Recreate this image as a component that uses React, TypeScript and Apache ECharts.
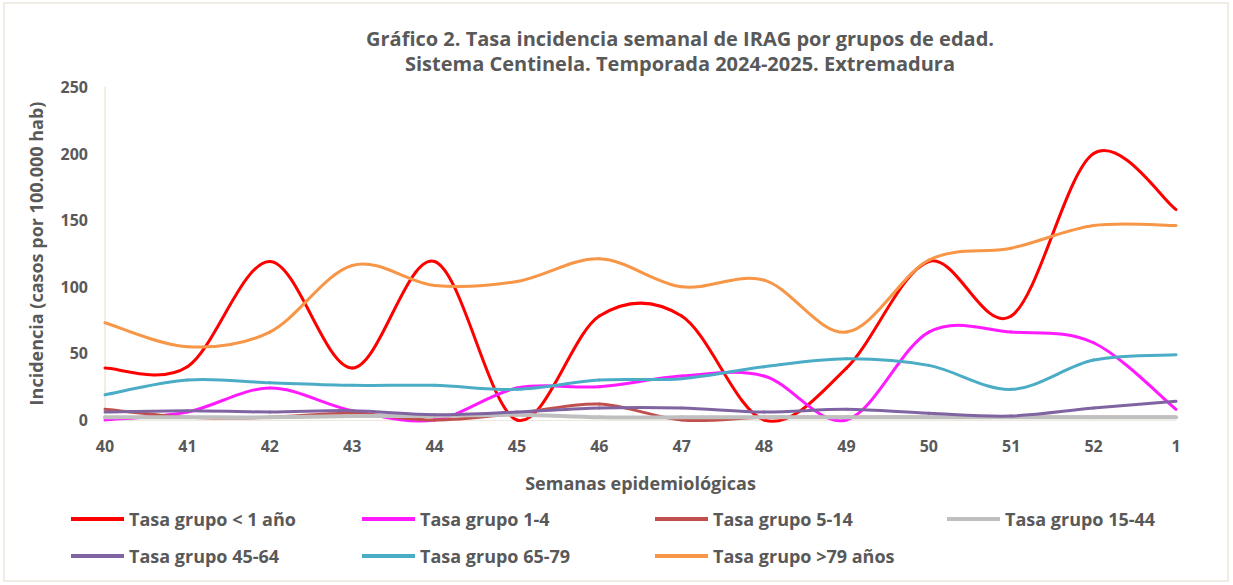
import React, { useEffect, useRef } from "react";
import * as echarts from "echarts";

const weeks = ["40", "41", "42", "43", "44", "45", "46", "47", "48", "49", "50", "51", "52", "1"];
const yTicks = [0, 50, 100, 150, 200, 250];

const grpLt1 = [39, 40, 119, 39, 119, 0, 78, 78, 0, 39, 119, 78, 200, 158];
const grp1to4 = [0, 6, 24, 7, 0, 24, 25, 33, 33, 0, 66, 66, 58, 8];
const grp5to14 = [8, 2, 2, 5, 0, 5, 12, 0, 2, 2, 2, 2, 2, 2];
const grp15to44 = [2, 2, 2, 3, 3, 4, 2, 2, 2, 2, 2, 2, 2, 2];
const grp45to64 = [6, 7, 6, 7, 4, 6, 9, 9, 6, 8, 5, 3, 9, 14];
const grp65to79 = [19, 30, 28, 26, 26, 23, 30, 31, 40, 46, 41, 23, 45, 49];
const grpGt79 = [73, 55, 66, 116, 101, 104, 121, 100, 105, 66, 120, 129, 146, 146];

const seriesNames = [
  "Tasa grupo < 1 año",
  "Tasa grupo 1-4",
  "Tasa grupo 5-14",
  "Tasa grupo 15-44",
  "Tasa grupo 45-64",
  "Tasa grupo 65-79",
  "Tasa grupo >79 años",
];
const seriesData = [grpLt1, grp1to4, grp5to14, grp15to44, grp45to64, grp65to79, grpGt79];
const colors = ["#FF0000", "#FF1AFF", "#C0504D", "#BFBFBF", "#8064A2", "#4BACC6", "#F79646"];
const widths = [3, 3, 3, 4, 3, 3, 3];

const FONT = "'Open Sans', 'Noto Sans', sans-serif";
const TXT = "#595959";

function smoothRender(values: number[], color: string, width: number) {
  return (params: any, api: any) => {
    const i = params.dataIndex;
    if (i >= values.length - 1) return null;
    const pt = (k: number) => {
      const kk = Math.max(0, Math.min(values.length - 1, k));
      return api.coord([kk, values[kk]]);
    };
    const p0 = pt(i - 1);
    const p1 = pt(i);
    const p2 = pt(i + 1);
    const p3 = pt(i + 2);
    const cp1 = [p1[0] + (p2[0] - p0[0]) / 6, p1[1] + (p2[1] - p0[1]) / 6];
    const cp2 = [p2[0] - (p3[0] - p1[0]) / 6, p2[1] - (p3[1] - p1[1]) / 6];
    return {
      type: "bezierCurve",
      shape: {
        x1: p1[0], y1: p1[1], x2: p2[0], y2: p2[1],
        cpx1: cp1[0], cpy1: cp1[1], cpx2: cp2[0], cpy2: cp2[1],
      },
      style: { stroke: color, lineWidth: width, fill: null, lineCap: "round" },
      silent: true,
    };
  };
}

export default function App() {
  const ref = useRef<HTMLDivElement>(null);
  useEffect(() => {
    document.body.style.margin = "0";
    const chart = echarts.init(ref.current!, null, { renderer: "svg" });
    const legendPos = [
      [71, 510], [362, 510], [655, 510], [947, 510],
      [71, 547], [362, 547], [655, 547],
    ];
    chart.setOption({
      animation: false,
      backgroundColor: "#ffffff",
      textStyle: { fontFamily: FONT },
      title: {
        text: "Gráfico 2. Tasa incidencia semanal de IRAG por grupos de edad.\nSistema Centinela. Temporada 2024-2025. Extremadura",
        left: 675,
        top: 21,
        textAlign: "center",
        textStyle: { fontFamily: FONT, fontSize: 20, fontWeight: "bold", color: TXT, lineHeight: 25 },
      },
      graphic: [
        {
          type: "rect",
          shape: { x: 4, y: 3, width: 1224, height: 578 },
          style: { fill: "none", stroke: "#EEE8DC", lineWidth: 1.5 },
          silent: true,
        },
      ],
      legend: seriesNames.map((n, i) => ({
        data: [n],
        left: legendPos[i][0],
        top: legendPos[i][1],
        icon: "rect",
        itemWidth: 53,
        itemHeight: 4,
        itemGap: 5,
        padding: 0,
        textStyle: { fontFamily: FONT, fontSize: 18, fontWeight: "bold", color: TXT, padding: [0, 0, 0, 0] },
      })),
      grid: { left: 105, right: 57, top: 87, bottom: 165, containLabel: false },
      xAxis: {
        type: "category",
        data: weeks,
        boundaryGap: false,
        name: "Semanas epidemiológicas",
        nameLocation: "middle",
        nameGap: 54,
        nameTextStyle: { fontFamily: FONT, fontSize: 18, fontWeight: "bold", color: TXT },
        axisLine: { show: true, lineStyle: { color: "#EEE8DC", width: 1 } },
        axisTick: { show: false },
        axisLabel: { fontFamily: FONT, fontSize: 16, fontWeight: "bold", color: TXT, margin: 18 },
        splitLine: { show: false },
      },
      yAxis: {
        type: "value",
        min: yTicks[0],
        max: yTicks[yTicks.length - 1],
        interval: 50,
        name: "Incidencia (casos por 100.000 hab)",
        nameLocation: "middle",
        nameGap: 60,
        nameTextStyle: { fontFamily: FONT, fontSize: 18, fontWeight: "bold", color: TXT },
        axisLine: { show: true, lineStyle: { color: "#EEE8DC", width: 1.5 } },
        axisTick: { show: false },
        axisLabel: { fontFamily: FONT, fontSize: 16, fontWeight: "bold", color: TXT, margin: 17 },
        splitLine: { show: false },
      },
      series: seriesNames.map((n, i) => ({
        name: n,
        type: "custom",
        coordinateSystem: "cartesian2d",
        data: seriesData[i].map((v, k) => [k, v]),
        encode: { x: 0, y: 1 },
        renderItem: smoothRender(seriesData[i], colors[i], widths[i]),
        itemStyle: { color: colors[i] },
        clip: false,
      })),
    });
    return () => chart.dispose();
  }, []);
  return <div ref={ref} style={{ width: 1233, height: 585 }} />;
}
